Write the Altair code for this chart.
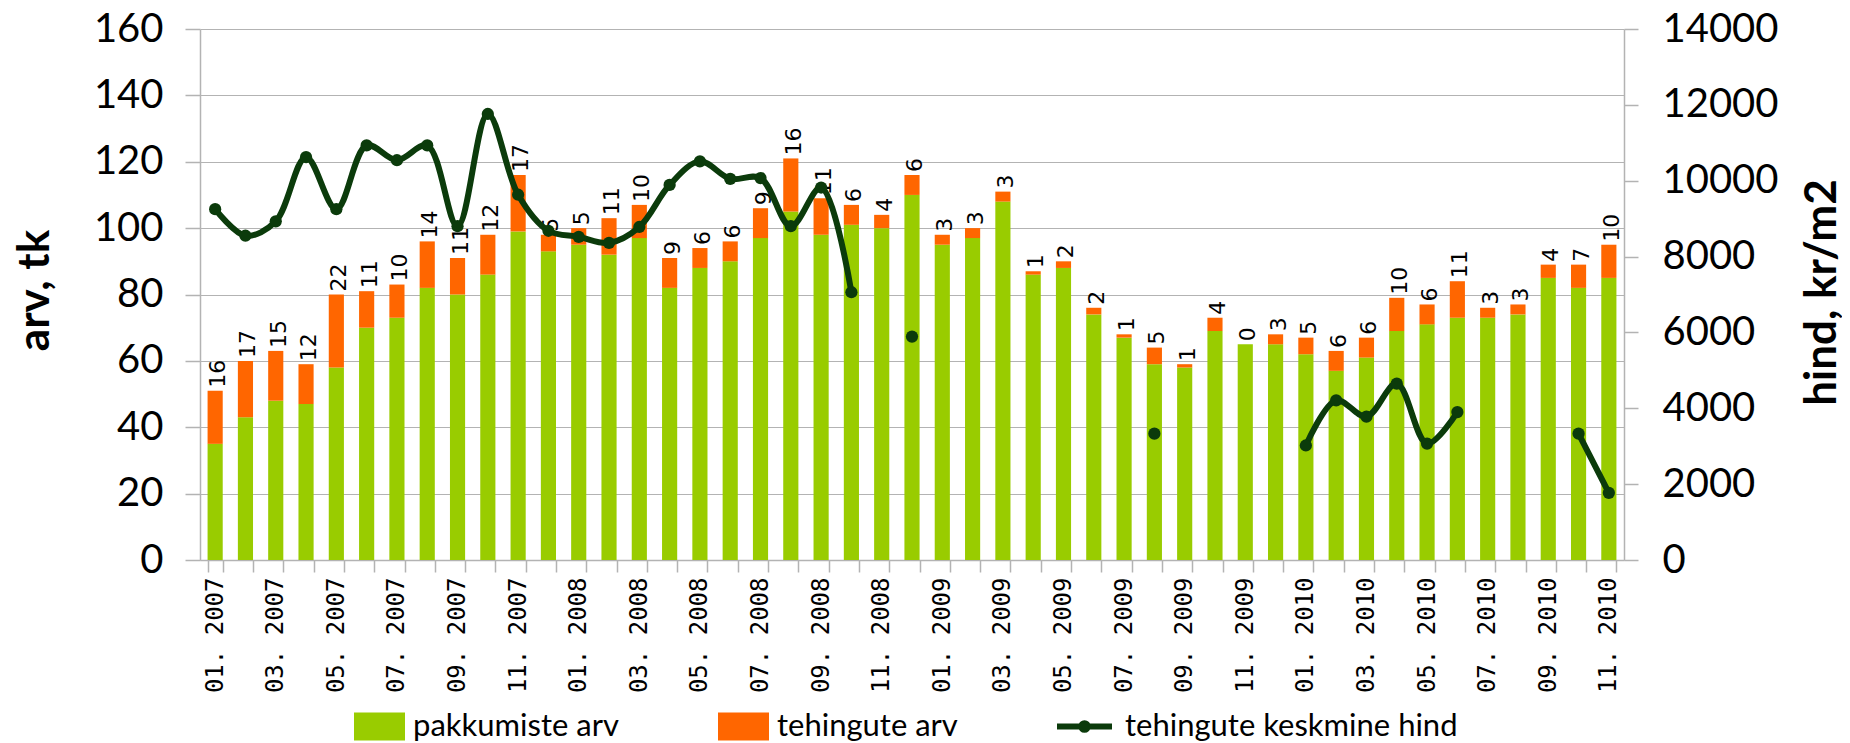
import altair as alt
import pandas as pd

months = [f"{m:02d}. {y}" for y in range(2007, 2011) for m in range(1, 13)][:47]

pakkumiste = [35, 43, 48, 47, 58, 70, 73, 82, 80, 86,
              99, 93, 95, 92, 97, 82, 88, 90, 97, 105,
              98, 101, 100, 110, 95, 97, 108, 86, 88, 74,
              67, 59, 58, 69, 65, 65, 62, 57, 61, 69,
              71, 73, 73, 74, 85, 82, 85]

tehingute = [16, 17, 15, 12, 22, 11, 10, 14, 11, 12,
             17, 5, 5, 11, 10, 9, 6, 6, 9, 16,
             11, 6, 4, 6, 3, 3, 3, 1, 2, 2,
             1, 5, 1, 4, 0, 3, 5, 6, 6, 10,
             6, 11, 3, 3, 4, 7, 10]

hind = [9250, 8550, 8930, 10620, 9250, 10930, 10540, 10930, 8800, 11760,
        9630, 8680, 8520, 8360, 8780, 9890, 10510, 10050, 10070, 8800,
        9820, 7060, None, 5890, None, None, None, None, None, None,
        None, 3330, None, None, None, None, 3020, 4210, 3780, 4650,
        3070, 3900, None, None, None, 3330, 1770]

# segment id for each run of consecutive known prices (line breaks at gaps)
seg = []
sid = 0
prev = None
for v in hind:
    if v is not None and prev is None:
        sid += 1
    seg.append(sid if v is not None else None)
    prev = v

GREEN = "#99cc00"
ORANGE = "#ff6600"
DARK = "#0b3b0b"
GRID = "#b3b3b3"

df = pd.DataFrame({
    "kuu": months,
    "pakk": pakkumiste,
    "teh": tehingute,
    "hind": hind,
    "seg": seg,
})
df["kokku"] = df["pakk"] + df["teh"]
df["lbl"] = df["teh"].astype(str)
df["g"] = "pakkumiste arv"
df["o"] = "tehingute arv"
df["l"] = "tehingute keskmine hind"

x_enc = alt.X(
    "kuu:N", sort=None,
    scale=alt.Scale(paddingInner=0.5, paddingOuter=0.25),
    axis=alt.Axis(
        title=None, labelAngle=270, labelFont="DejaVu Sans Mono", labelFontSize=24,
        labelColor="black", labelPadding=5, tickBand="extent", tickSize=12,
        tickColor=GRID, tickWidth=1.5, domainColor=GRID, domainWidth=1.5,
        labelOverlap=False, grid=False,
        labelExpr="parseInt(substring(datum.label,0,2)) % 2 == 1 ? datum.label : ''",
    ),
)

left_scale = alt.Scale(domain=[0, 160], nice=False)
left_axis = alt.Axis(
    title="arv, tk", values=list(range(0, 161, 20)),
    labelFont="Lato", labelFontSize=40, labelColor="black", labelPadding=22,
    tickSize=15, tickColor=GRID, tickWidth=1.5, domainColor=GRID, domainWidth=1.5,
    grid=True, gridColor=GRID, gridWidth=1.2,
    titleFont="Lato", titleFontWeight="bold", titleFontSize=44, titleColor="black",
    titleAngle=270, titleX=-165, titleY=261, titleAlign="center", titleBaseline="middle",
)

right_scale = alt.Scale(domain=[0, 14000], nice=False)
right_axis = alt.Axis(
    orient="right", title="hind, kr/m2", values=list(range(0, 14001, 2000)),
    format="d",
    labelFont="Lato", labelFontSize=40, labelColor="black", labelPadding=24,
    tickSize=14, tickColor=GRID, tickWidth=1.5, domainColor=GRID, domainWidth=1.5,
    grid=False,
    titleFont="Lato", titleFontWeight="bold", titleFontSize=44, titleColor="black",
    titleAngle=270, titleX=198, titleY=263, titleAlign="center", titleBaseline="middle",
)

RECT = "M-1,-0.55H1V0.55H-1Z"


def bar_legend(lx):
    return alt.Legend(
        title=None, orient="none", legendX=lx, legendY=672,
        symbolType=RECT, symbolSize=2601, symbolStrokeWidth=0, symbolOpacity=1,
        labelFont="Lato", labelFontSize=31, labelColor="black", labelOffset=8,
        labelLimit=600, padding=0,
    )


base = alt.Chart(df)

green = base.mark_bar().encode(
    x=x_enc,
    y=alt.Y("pakk:Q", scale=left_scale, axis=left_axis),
    color=alt.Color("g:N", scale=alt.Scale(range=[GREEN]), legend=bar_legend(154)),
)

orange = base.mark_bar().encode(
    x=x_enc,
    y=alt.Y("pakk:Q", scale=left_scale, axis=left_axis),
    y2="kokku:Q",
    color=alt.Color("o:N", scale=alt.Scale(range=[ORANGE]), legend=bar_legend(518)),
)

labels = base.mark_text(
    angle=270, align="left", baseline="middle", dx=3, dy=3,
    font="DejaVu Sans", fontSize=22, color="black",
).encode(
    x=x_enc,
    y=alt.Y("kokku:Q", scale=left_scale, axis=left_axis),
    text="lbl:N",
)

left = alt.layer(green, orange, labels).resolve_scale(color="independent")

line = base.transform_filter("isValid(datum.hind)").mark_line(
    strokeWidth=6, interpolate="catmull-rom", strokeCap="round", strokeJoin="round",
).encode(
    x=x_enc,
    y=alt.Y("hind:Q", scale=right_scale, axis=right_axis),
    detail="seg:N",
    stroke=alt.Stroke(
        "l:N", scale=alt.Scale(range=[DARK]),
        legend=alt.Legend(
            title=None, orient="none", legendX=854, legendY=667,
            symbolType="M-1,0H1M-0.12,0A0.12,0.12,0,1,1,0.12,0A0.12,0.12,0,1,1,-0.12,0",
            symbolSize=3025, symbolStrokeWidth=6, symbolFillColor=DARK,
            labelFont="Lato", labelFontSize=31, labelColor="black", labelOffset=10,
            labelLimit=700, padding=0,
        ),
    ),
)

points = base.transform_filter("isValid(datum.hind)").mark_circle(
    size=150, color=DARK, opacity=1,
).encode(
    x=x_enc,
    y=alt.Y("hind:Q", scale=right_scale, axis=right_axis),
)

right = alt.layer(line, points)

chart = alt.layer(left, right).resolve_scale(y="independent").properties(
    width=1424, height=531,
    padding={"left": 192, "top": 21, "right": 218, "bottom": 183},
    autosize=alt.AutoSizeParams(type="none"),
    background="white",
).configure_view(strokeWidth=0)

chart.save("out.html", embed_options={"renderer": "svg", "actions": False})
